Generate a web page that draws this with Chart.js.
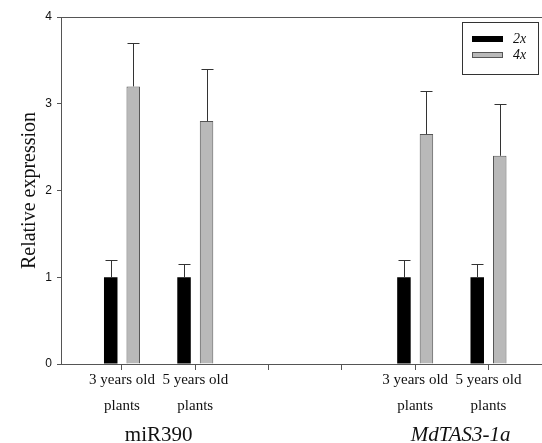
<!DOCTYPE html>
<html>
<head>
<meta charset="utf-8">
<script src="https://cdn.jsdelivr.net/npm/chart.js@4"></script>
<style>
  body { margin: 0; background: #fff; }
</style>
</head>
<body>
<canvas id="expr" width="542" height="443"></canvas>
<script>
// data
const categories = [['3 years old', 'plants'], ['5 years old', 'plants'], '', '', ['3 years old', 'plants'], ['5 years old', 'plants']];
const seriesNames = ['2x', '4x'];
const values2x = [1, 1, null, null, 1, 1];
const errors2x = [0.2, 0.15, null, null, 0.2, 0.15];
const values4x = [3.2, 2.8, null, null, 2.65, 2.4];
const errors4x = [0.5, 0.6, null, null, 0.5, 0.6];
const groupNames = ['miR390', 'MdTAS3-1a'];
const groupAt = [1.5, 5.62];
const yTicks = [0, 1, 2, 3, 4];

const AXIS = '#555';
const serif = '"Liberation Serif", "Times New Roman", serif';

// bars sit at positions 1..n on a linear x axis
const toPoints = vals => vals.map((v, i) => ({ x: i + 1, y: v })).filter(p => p.y !== null);

/* error bars, upward only */
const errorBars = {
  id: 'errorBars',
  afterDatasetsDraw(chart) {
    const ctx = chart.ctx;
    const y = chart.scales.y;
    const errs = [errors2x, errors4x];
    ctx.save();
    ctx.strokeStyle = '#333';
    ctx.lineWidth = 1;
    chart.data.datasets.forEach((ds, d) => {
      const meta = chart.getDatasetMeta(d);
      meta.data.forEach((bar, j) => {
        const p = ds.data[j];
        const e = errs[d][p.x - 1];
        if (e == null) return;
        const top = Math.round(y.getPixelForValue(p.y + e)) + 0.5;
        const x = Math.round(bar.x) + 0.5;
        ctx.beginPath();
        ctx.moveTo(x, bar.y);
        ctx.lineTo(x, top);
        ctx.moveTo(x - 6, top);
        ctx.lineTo(x + 6, top);
        ctx.stroke();
      });
    });
    ctx.restore();
  }
};

/* boxed legend in the top right corner + group names under the axis */
const extras = {
  id: 'extras',
  afterDraw(chart) {
    const ctx = chart.ctx;
    const x = chart.scales.x;
    ctx.save();
    // legend
    ctx.strokeStyle = '#333';
    ctx.lineWidth = 1;
    ctx.strokeRect(462.5, 22.5, 76, 52);
    chart.data.datasets.forEach((ds, i) => {
      const sy = 36 + i * 16;
      ctx.fillStyle = ds.backgroundColor;
      ctx.fillRect(472, sy, 31, 6);
      if (ds.borderWidth) {
        ctx.strokeStyle = ds.borderColor;
        ctx.strokeRect(472.5, sy + 0.5, 30, 5);
      }
      ctx.fillStyle = '#111';
      ctx.font = 'italic 14px ' + serif;
      ctx.textBaseline = 'middle';
      ctx.textAlign = 'left';
      ctx.fillText(ds.label, 513, sy + 3);
    });
    // group names
    ctx.textAlign = 'center';
    ctx.textBaseline = 'alphabetic';
    groupNames.forEach((g, i) => {
      ctx.font = (i === 1 ? 'italic ' : '') + '21px ' + serif;
      ctx.fillText(g, x.getPixelForValue(groupAt[i]), 441);
    });
    ctx.restore();
  }
};

new Chart(document.getElementById('expr'), {
  type: 'bar',
  data: {
    datasets: [
      {
        label: seriesNames[0],
        data: toPoints(values2x),
        backgroundColor: '#000',
        borderWidth: 0
      },
      {
        label: seriesNames[1],
        data: toPoints(values4x),
        backgroundColor: '#b9b9b9',
        borderColor: '#555',
        borderWidth: 1
      }
    ]
  },
  options: {
    responsive: false,
    animation: false,
    layout: { padding: { top: 17, right: 0, left: 0, bottom: 0 } },
    categoryPercentage: 0.614,
    barPercentage: 0.6,
    plugins: { legend: { display: false }, tooltip: { enabled: false } },
    scales: {
      x: {
        type: 'linear',
        offset: false,
        min: 0.168,
        max: 6.73,
        afterBuildTicks: s => { s.ticks = categories.map((c, i) => ({ value: i + 1 })); },
        afterFit: s => { s.height = 79; },
        border: { color: AXIS, width: 1 },
        grid: { offset: false, drawOnChartArea: false, tickLength: 6, color: AXIS },
        ticks: {
          autoSkip: false,
          maxRotation: 0,
          padding: -3,
          color: '#111',
          font: { family: serif, size: 15, lineHeight: '26px' },
          callback: v => categories[v - 1]
        }
      },
      y: {
        min: 0,
        max: 4,
        afterBuildTicks: s => { s.ticks = yTicks.map(v => ({ value: v })); },
        afterFit: s => { s.width = 61; },
        border: { color: AXIS, width: 1 },
        grid: {
          tickLength: 4,
          tickColor: AXIS,
          color: c => (c.tick && c.tick.value === 4 ? AXIS : 'rgba(0,0,0,0)')
        },
        ticks: {
          padding: 5,
          color: '#111',
          font: { family: '"Liberation Sans", Arial, sans-serif', size: 12 }
        },
        title: {
          display: true,
          text: 'Relative expression',
          color: '#111',
          padding: { top: 18, bottom: 0 },
          font: { family: serif, size: 20 }
        }
      }
    }
  },
  plugins: [errorBars, extras]
});
</script>
</body>
</html>
